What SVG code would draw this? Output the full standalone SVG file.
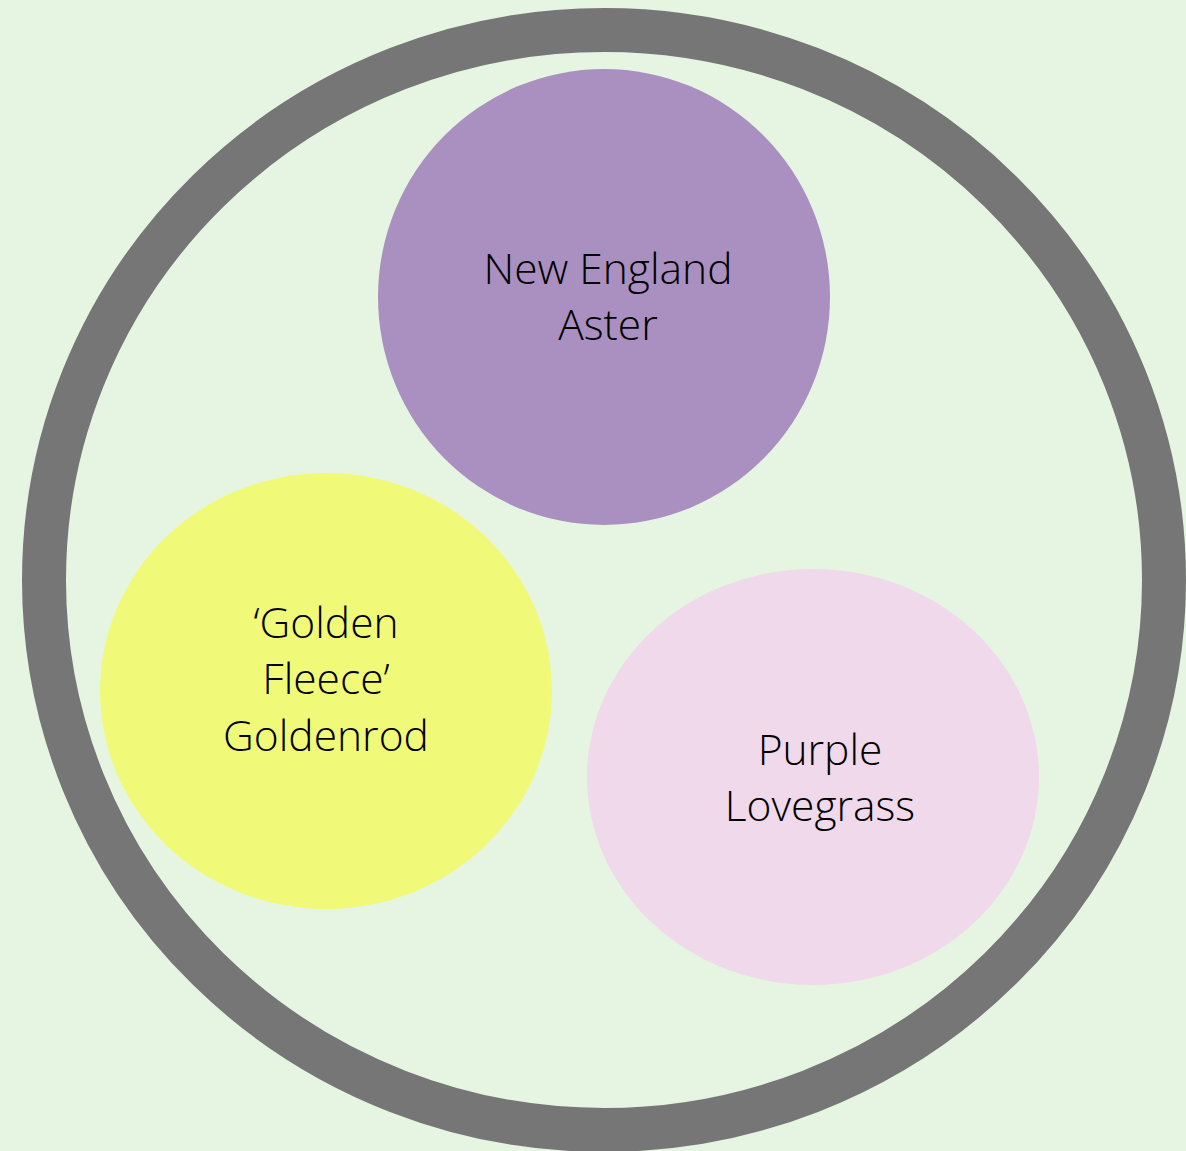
<svg xmlns="http://www.w3.org/2000/svg" width="1186" height="1151" viewBox="0 0 1186 1151">
<style>
.lbl{font-family:"Open Sans","Noto Sans","Liberation Sans",sans-serif;font-weight:300;font-size:42.5px;fill:#000;text-anchor:middle}
</style>
<rect x="0" y="0" width="1186" height="1151" fill="#E6F5E1"/>
<g id="ring"><ellipse cx="604" cy="580" rx="560" ry="550" fill="none" stroke="#767676" stroke-width="44"/></g>
<g id="aster"><ellipse cx="604" cy="297" rx="226" ry="228" fill="#AA90C0"/>
<text class="lbl" x="608" y="284">New England</text><text class="lbl" x="608" y="340">Aster</text></g>
<g id="goldenrod"><ellipse cx="326" cy="691" rx="226" ry="218" fill="#F0FA78"/>
<text class="lbl" x="326" y="638">‘Golden</text><text class="lbl" x="326" y="694">Fleece’</text><text class="lbl" x="326" y="751">Goldenrod</text></g>
<g id="lovegrass"><ellipse cx="813" cy="777" rx="226" ry="208" fill="#EFD9EA"/>
<text class="lbl" x="820" y="765">Purple</text><text class="lbl" x="820" y="821">Lovegrass</text></g>
<g id="connectors"/>
</svg>
